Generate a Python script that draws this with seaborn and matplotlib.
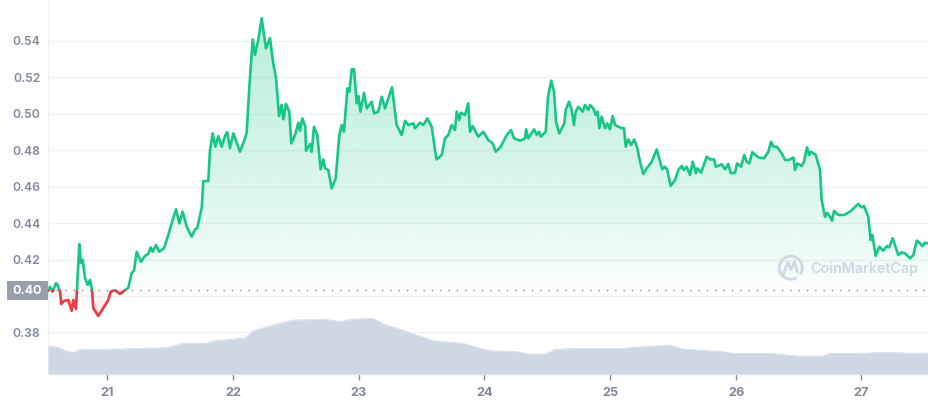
import numpy as np
import pandas as pd
import matplotlib
matplotlib.use("Agg")
import matplotlib.pyplot as plt
from matplotlib.patches import Arc, Rectangle
import seaborn as sns

PRICE_DAY = [20.526,20.542,20.563,20.590,20.603,20.622,20.632,20.654,20.688,20.715,20.728,20.749,20.760,20.776,20.789,20.803,20.821,20.843,20.861,20.877,20.887,20.927,20.967,21.007,21.026,21.060,21.100,21.140,21.166,21.193,21.212,21.233,21.268,21.299,21.326,21.345,21.361,21.387,21.413,21.451,21.485,21.504,21.547,21.573,21.600,21.632,21.672,21.698,21.716,21.752,21.764,21.804,21.818,21.839,21.860,21.884,21.911,21.937,21.955,21.977,22.004,22.057,22.097,22.110,22.131,22.158,22.176,22.202,22.230,22.264,22.296,22.322,22.344,22.368,22.389,22.402,22.424,22.450,22.466,22.496,22.522,22.535,22.554,22.578,22.583,22.615,22.629,22.647,22.673,22.700,22.721,22.735,22.761,22.788,22.820,22.849,22.868,22.886,22.913,22.929,22.948,22.966,22.988,23.001,23.017,23.046,23.068,23.107,23.126,23.160,23.187,23.213,23.240,23.269,23.306,23.346,23.373,23.399,23.439,23.452,23.492,23.519,23.551,23.586,23.612,23.625,23.665,23.692,23.718,23.745,23.771,23.785,23.806,23.817,23.851,23.877,23.891,23.912,23.957,23.997,24.037,24.072,24.096,24.136,24.184,24.218,24.242,24.290,24.330,24.338,24.356,24.402,24.423,24.441,24.455,24.495,24.513,24.539,24.561,24.577,24.603,24.643,24.654,24.680,24.702,24.720,24.734,24.755,24.790,24.808,24.834,24.848,24.874,24.893,24.909,24.922,24.941,24.968,24.986,25.007,25.029,25.047,25.101,25.119,25.133,25.153,25.175,25.201,25.225,25.247,25.273,25.300,25.340,25.380,25.424,25.446,25.464,25.491,25.526,25.552,25.579,25.597,25.619,25.645,25.667,25.693,25.704,25.733,25.779,25.805,25.837,25.851,25.898,25.925,25.951,25.970,26.004,26.020,26.052,26.078,26.097,26.118,26.142,26.190,26.235,26.270,26.291,26.310,26.337,26.377,26.403,26.435,26.470,26.483,26.501,26.536,26.554,26.578,26.594,26.610,26.648,26.682,26.695,26.722,26.740,26.762,26.778,26.794,26.828,26.873,26.921,26.987,27.015,27.033,27.067,27.086,27.099,27.126,27.155,27.187,27.214,27.234,27.261,27.306,27.333,27.360,27.400,27.426,27.453,27.480,27.498,27.519,27.539]
PRICE = [0.4029,0.4051,0.4024,0.4071,0.4060,0.4024,0.3956,0.3973,0.3978,0.3919,0.3978,0.3929,0.4071,0.4285,0.4181,0.4198,0.4099,0.4060,0.4088,0.4033,0.3934,0.3890,0.3934,0.3978,0.4024,0.4033,0.4011,0.4033,0.4044,0.4126,0.4139,0.4243,0.4188,0.4220,0.4231,0.4267,0.4243,0.4280,0.4243,0.4262,0.4335,0.4380,0.4476,0.4399,0.4463,0.4380,0.4326,0.4366,0.4372,0.4487,0.4631,0.4631,0.4802,0.4893,0.4820,0.4878,0.4820,0.4878,0.4900,0.4812,0.4893,0.4792,0.4866,0.4895,0.5142,0.5409,0.5323,0.5405,0.5525,0.5360,0.5415,0.5277,0.5197,0.4988,0.5049,0.4970,0.5054,0.5012,0.4838,0.4884,0.4951,0.4907,0.4975,0.4929,0.4798,0.4834,0.4792,0.4929,0.4884,0.4696,0.4750,0.4701,0.4692,0.4591,0.4646,0.4884,0.4939,0.4902,0.5140,0.5122,0.5245,0.5245,0.5058,0.5098,0.5012,0.5116,0.5030,0.5067,0.5003,0.5012,0.5094,0.5030,0.5085,0.5146,0.4939,0.4884,0.4962,0.4939,0.4948,0.4921,0.4951,0.4939,0.4975,0.4929,0.4802,0.4750,0.4774,0.4866,0.4884,0.4939,0.4911,0.5012,0.4966,0.5006,0.4994,0.5058,0.4902,0.4933,0.4875,0.4902,0.4856,0.4838,0.4792,0.4820,0.4884,0.4911,0.4866,0.4853,0.4866,0.4915,0.4866,0.4915,0.4884,0.4902,0.4875,0.4902,0.5094,0.5182,0.5122,0.4957,0.4893,0.4948,0.5021,0.5067,0.5021,0.4939,0.5012,0.5039,0.5012,0.5049,0.5021,0.5049,0.5030,0.4994,0.5012,0.4921,0.4984,0.4921,0.4948,0.4915,0.4988,0.4939,0.4921,0.4921,0.4820,0.4860,0.4829,0.4860,0.4811,0.4737,0.4670,0.4701,0.4737,0.4805,0.4696,0.4710,0.4692,0.4604,0.4637,0.4692,0.4714,0.4692,0.4710,0.4664,0.4737,0.4674,0.4701,0.4677,0.4765,0.4750,0.4750,0.4710,0.4723,0.4696,0.4725,0.4674,0.4677,0.4728,0.4710,0.4774,0.4737,0.4728,0.4789,0.4761,0.4756,0.4792,0.4847,0.4820,0.4820,0.4783,0.4747,0.4747,0.4761,0.4692,0.4728,0.4714,0.4737,0.4816,0.4774,0.4792,0.4774,0.4692,0.4527,0.4435,0.4457,0.4435,0.4413,0.4468,0.4445,0.4445,0.4463,0.4505,0.4487,0.4494,0.4435,0.4307,0.4335,0.4220,0.4271,0.4249,0.4274,0.4267,0.4317,0.4225,0.4240,0.4234,0.4207,0.4225,0.4304,0.4289,0.4274,0.4293,0.4289]
VOLUME_DAY = [20.526,20.606,20.662,20.728,20.781,20.994,21.260,21.473,21.603,21.791,21.858,22.097,22.163,22.320,22.480,22.748,22.854,22.934,23.120,23.200,23.333,23.466,23.598,23.837,23.971,24.050,24.263,24.353,24.489,24.569,24.768,25.111,25.350,25.486,25.590,25.909,25.988,26.283,26.498,26.697,26.761,27.025,27.200,27.423,27.543]
VOLUME = [28,26.7,23.3,21.3,24.7,24.7,25.7,26.3,30.7,30.7,33.3,36,43.3,49,54,54.7,52.3,54.7,55.7,50,44.7,39,33.3,30.7,25.7,23.3,22.3,20,20,24.7,25.7,25.7,28,29,25,22.3,20.7,20.7,18,18,20.7,20.7,21.7,20.7,21]
BASELINE = 0.4033
Y_TICKS = [0.38, 0.40, 0.42, 0.44, 0.46, 0.48, 0.50, 0.52, 0.54]
X_TICK_POS = [20.999, 22.001, 23.003, 24.005, 25.010, 26.015, 27.011]
X_TICK_LABELS = ["21", "22", "23", "24", "25", "26", "27"]

GREEN, RED, GREY, GRID, VOL = "#16c784", "#ea3943", "#808a9d", "#eff2f5", "#cfd6e4"
FONT = ["Inter", "DejaVu Sans"]
sns.set_theme(style="white")
plt.rcParams["font.family"] = FONT

W, H = 929, 400
fig = plt.figure(figsize=(W / 100, H / 100), dpi=100)
ax = fig.add_axes([48 / W, 1 - 374 / H, 880 / W, 374 / H])
XLIM = (20.526, 27.543)
YLIM = (0.3572, 0.5625)

df = pd.DataFrame({"day": PRICE_DAY, "price": PRICE})
vf = pd.DataFrame({"day": VOLUME_DAY, "volume": VOLUME})

ax.set_xlim(*XLIM)
ax.set_ylim(*YLIM)
ax.set_yticks(Y_TICKS)
ax.grid(axis="y", color=GRID, lw=1)
ax.set_axisbelow(True)

# gradient fills clipped to the area between price and baseline
poly = ax.fill_between(df["day"], df["price"], BASELINE, color="none", lw=0)
clip = poly.get_paths()[0]
def gradient(color, lo, hi, alpha_ramp):
    rgba = np.ones((256, 1, 4))
    rgba[..., :3] = matplotlib.colors.to_rgb(color)
    rgba[..., 3] = alpha_ramp[:, None]
    im = ax.imshow(rgba, origin="lower", aspect="auto", zorder=1.5,
                   extent=(XLIM[0], XLIM[1], lo, hi), interpolation="bilinear")
    im.set_clip_path(clip, transform=ax.transData)
ramp = np.linspace(0, 1, 256)
gradient(GREEN, BASELINE, max(PRICE), 0.30 * ramp ** 0.7)
gradient(RED, min(PRICE), BASELINE, 0.16 * ramp[::-1])
ax.set_xlim(*XLIM)
ax.set_ylim(*YLIM)

ax.axhline(BASELINE, color=GREY, lw=1, ls=(0, (1, 5)), zorder=2)

sns.lineplot(data=df, x="day", y="price", ax=ax, color=GREEN, lw=1.9, estimator=None,
             sort=False, zorder=3, legend=False)
green_line = ax.lines[-1]
sns.lineplot(data=df, x="day", y="price", ax=ax, color=RED, lw=1.9, estimator=None,
             sort=False, zorder=3, legend=False)
red_line = ax.lines[-1]
for line, (lo, hi) in ((green_line, (BASELINE, YLIM[1])), (red_line, (YLIM[0], BASELINE))):
    r = Rectangle((XLIM[0], lo), XLIM[1] - XLIM[0], hi - lo, transform=ax.transData)
    line.set_clip_path(r)

ax.set_xlabel("")
ax.set_ylabel("")
ax.set_xticks(X_TICK_POS)
ax.set_xticklabels(X_TICK_LABELS, fontsize=9.2, fontweight="bold", color=GREY)
ax.set_yticklabels(["" if abs(t - 0.40) < 1e-6 else f"{t:.2f}" for t in Y_TICKS],
                   fontsize=8.8, fontweight="semibold", color=GREY)
ax.tick_params(axis="x", length=4, width=1, color=GREY, pad=5, bottom=True)
ax.tick_params(axis="y", length=0, pad=5.5)
sns.despine(ax=ax, top=True, right=True)
for s in ("left", "bottom"):
    ax.spines[s].set_color(GRID)
    ax.spines[s].set_linewidth(1)

# volume area
vol = ax.twinx()
vol.set_ylim(0, 374)
vol.set_xlim(*XLIM)
sns.lineplot(data=vf, x="day", y="volume", ax=vol, color=VOL, lw=0.5, estimator=None, legend=False)
vol.fill_between(vf["day"], vf["volume"], 0, color=VOL, lw=0)
vol.set_axis_off()

# baseline label box
fig.patches.append(Rectangle((7 / W, 1 - 299.5 / H), 41 / W, 19 / H, transform=fig.transFigure,
                             facecolor="#989eab", edgecolor="none", figure=fig))
fig.text(27.5 / W, 1 - 290 / H, "0.40", color="white", fontsize=9, fontweight="bold",
         ha="center", va="center_baseline")

# watermark
wm = fig.add_axes([0, 0, 1, 1], zorder=5)
wm.set_xlim(0, W); wm.set_ylim(H, 0); wm.axis("off")
wm.add_patch(Arc((790.7, 267.7), 23, 23, theta1=60, theta2=395, color=VOL, lw=1.9))
wm.plot([783.5, 788, 791, 794.5, 797.5], [274, 262, 270, 262, 272], color=VOL, lw=1.9,
        solid_joinstyle="round")
wm.text(810, 267.7, "CoinMarketCap", color=VOL, fontsize=10.3, fontweight="semibold",
        ha="left", va="center_baseline")

fig.savefig("out.png", dpi=100)
